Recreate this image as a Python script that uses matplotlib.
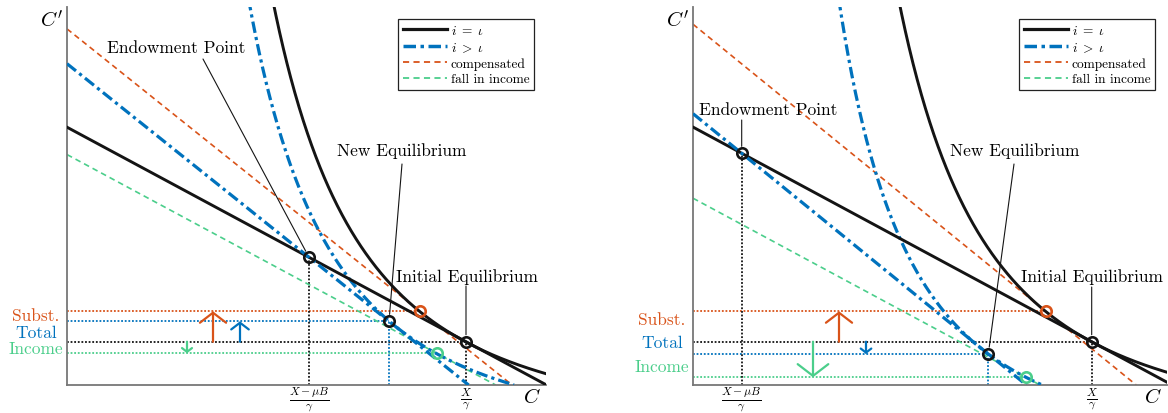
import numpy as np
import matplotlib
matplotlib.use('Agg')
import matplotlib.pyplot as plt
from matplotlib.lines import Line2D

plt.rcParams['font.family'] = ['cmr10', 'DejaVu Serif']
plt.rcParams['mathtext.fontset'] = 'cm'
plt.rcParams['axes.formatter.use_mathtext'] = True

BLACK = '#141414'
BLUE = '#0072BD'
ORANGE = '#D95319'
GREEN = '#4BCE8B'

# (C, C') of each marked point, left panel first, right panel second
endowment = [(2.42, 1.277), (0.487, 2.317)]
initial_eq = [(3.99, 0.433), (3.987, 0.433)]
new_eq = [(3.22, 0.637), (2.953, 0.310)]
compensated_pt = [(3.53, 0.737), (3.527, 0.737)]
income_pt = [(3.697, 0.317), (3.327, 0.077)]

# indifference curves C' = b + K * C**(-alpha), stored as (K, alpha, b)
ic_initial = [(23.81, 2.365, -0.473), (23.81, 2.365, -0.473)]
ic_new = [(17.0, 2.25, -0.584), (10.13, 2.1, -0.733)]

c_max = [4.79, 4.74]
cp_max = 3.78

tick_labels = [r'$\frac{X-\mu B}{\gamma}$', r'$\frac{X}{\gamma}$']
effect_names = ['Subst.', 'Total', 'Income']
effect_colors = [ORANGE, BLUE, GREEN]
arrow_c = [1.46, 1.73, 1.20]
# vertical placement of the effect names beside the C' axis
name_y = [[0.70, 0.53, 0.37], [0.66, 0.43, 0.19]]

# (text, text centre, start of the leader line, point it refers to)
callouts = [
    [('Endowment Point', (1.09, 3.38), (1.36, 3.26), 'E'),
     ('New Equilibrium', (3.345, 2.35), (3.35, 2.21), 'N'),
     ('Initial Equilibrium', (3.995, 1.09), (3.99, 0.99), 'A')],
    [('Endowment Point', (0.75, 2.76), (0.487, 2.65), 'E'),
     ('New Equilibrium', (3.215, 2.35), (3.21, 2.21), 'N'),
     ('Initial Equilibrium', (3.99, 1.09), (3.987, 0.98), 'A')],
]

legend_labels = [r'$i\;=\;\iota$', r'$i\;>\;\iota$', 'compensated', 'fall in income']

DASHDOT = (0, (3.6, 1.3, 1.0, 1.3))
DASHED = (0, (3.4, 2.4))


def line_through(pt, slope, xmax):
    """Budget line C' = y0 - slope*(C - x0) from C=0 down to the C axis."""
    x0, y0 = pt
    y_int = y0 + slope * x0
    x_end = min(xmax, y_int / slope)
    xs = np.array([0.0, x_end])
    return xs, y_int - slope * xs


def indiff(params, xmax):
    k, alpha, b = params
    xs = np.linspace(0.6, xmax, 800)
    ys = b + k * xs ** (-alpha)
    keep = ys >= 0
    return xs[keep], ys[keep]


def slope(p, q):
    return (p[1] - q[1]) / (q[0] - p[0])


fig = plt.figure(figsize=(11.68, 4.14), dpi=100)
positions = [[67 / 1168, 28 / 414, 479 / 1168, 378 / 414],
             [693 / 1168, 28 / 414, 474 / 1168, 378 / 414]]

for i in range(2):
    ax = fig.add_axes(positions[i])
    ax.set_xlim(0, c_max[i])
    ax.set_ylim(0, cp_max)
    for s in ['top', 'right']:
        ax.spines[s].set_visible(False)
    for s in ['left', 'bottom']:
        ax.spines[s].set_color('#777777')
        ax.spines[s].set_linewidth(1.3)

    E, A, N = endowment[i], initial_eq[i], new_eq[i]
    O, G = compensated_pt[i], income_pt[i]
    p_old = slope(E, A)
    p_new = slope(E, N)

    # indifference curves
    ax.plot(*indiff(ic_initial[i], c_max[i]), color=BLACK, lw=2.1, zorder=3)
    ax.plot(*indiff(ic_new[i], c_max[i]), color=BLUE, lw=2.3, ls=DASHDOT, zorder=3)

    # budget lines
    ax.plot(*line_through(E, p_old, c_max[i]), color=BLACK, lw=2.1, zorder=3)
    ax.plot(*line_through(E, p_new, c_max[i]), color=BLUE, lw=2.3, ls=DASHDOT, zorder=3)
    ax.plot(*line_through(O, p_new, c_max[i]), color=ORANGE, lw=1.2, ls=DASHED, zorder=2)
    ax.plot(*line_through(G, p_old, c_max[i]), color=GREEN, lw=1.2, ls=DASHED, zorder=2)

    # guide lines to the axes
    for pt, col in [(O, ORANGE), (N, BLUE), (A, BLACK), (G, GREEN)]:
        ax.plot([0, pt[0]], [pt[1], pt[1]], color=col, lw=1.3, ls=(0, (1, 1)), zorder=1)
    for pt, col in [(E, BLACK), (N, BLUE), (A, BLACK)]:
        ax.plot([pt[0], pt[0]], [0, pt[1]], color=col, lw=1.3, ls=(0, (1, 1)), zorder=1)

    # markers
    for pt, col in [(E, BLACK), (A, BLACK), (N, BLACK), (O, ORANGE), (G, GREEN)]:
        ax.plot(*pt, marker='o', ms=7.5, mfc='none', mec=col, mew=1.9, zorder=6)

    # effect arrows, all measured from the initial equilibrium level
    for target, xa, col in zip([O, N, G], arrow_c, effect_colors):
        y0, y1 = A[1], target[1]
        length = abs(ax.transData.transform((xa, y1))[1]
                     - ax.transData.transform((xa, y0))[1]) * 72 / fig.dpi
        hw = 0.43 * length
        hl = 0.33 * length
        ax.annotate('', xy=(xa, y1), xytext=(xa, y0),
                    arrowprops=dict(arrowstyle=f'->,head_length={hl:.2f},head_width={hw:.2f}',
                                    color=col, lw=1.6, shrinkA=0, shrinkB=0,
                                    mutation_scale=1), zorder=5)

    for name, yy, col in zip(effect_names, name_y[i], effect_colors):
        ax.annotate(name, xy=(0, yy), xycoords=('axes fraction', 'data'),
                    xytext=(-31, 0), textcoords='offset pixels',
                    ha='center', va='center', color=col, fontsize=12.5)

    pts = {'E': E, 'N': N, 'A': A}
    for text, xy_text, start, key in callouts[i]:
        ax.text(*xy_text, text, ha='center', va='center', fontsize=12.5, zorder=7)
        ax.annotate('', xy=pts[key], xytext=start,
                    arrowprops=dict(arrowstyle='-', color=BLACK, lw=0.8,
                                    shrinkA=0, shrinkB=5))

    ax.set_xticks([E[0], A[0]], tick_labels, fontsize=12)
    ax.tick_params(axis='x', length=0, pad=0)
    ax.set_yticks([])

    ax.annotate(r"$C'$", xy=(0, 1), xycoords='axes fraction', xytext=(-4, -13),
                textcoords='offset pixels', ha='right', va='center', fontsize=15)
    ax.annotate(r'$C$', xy=(1, 0), xycoords='axes fraction', xytext=(-5, -12),
                textcoords='offset pixels', ha='right', va='center', fontsize=15)

    handles = [Line2D([], [], color=BLACK, lw=2.3),
               Line2D([], [], color=BLUE, lw=2.5, ls=DASHDOT),
               Line2D([], [], color=ORANGE, lw=1.3, ls=DASHED),
               Line2D([], [], color=GREEN, lw=1.3, ls=DASHED)]
    leg = ax.legend(handles, legend_labels, loc='upper right', fontsize=9.6,
                    handlelength=3.3, handletextpad=0.3, labelspacing=0.25,
                    borderpad=0.35, borderaxespad=0.9, fancybox=False,
                    framealpha=1, edgecolor='#222222')
    leg.get_frame().set_linewidth(0.9)

fig.savefig('out.png', dpi=100)
